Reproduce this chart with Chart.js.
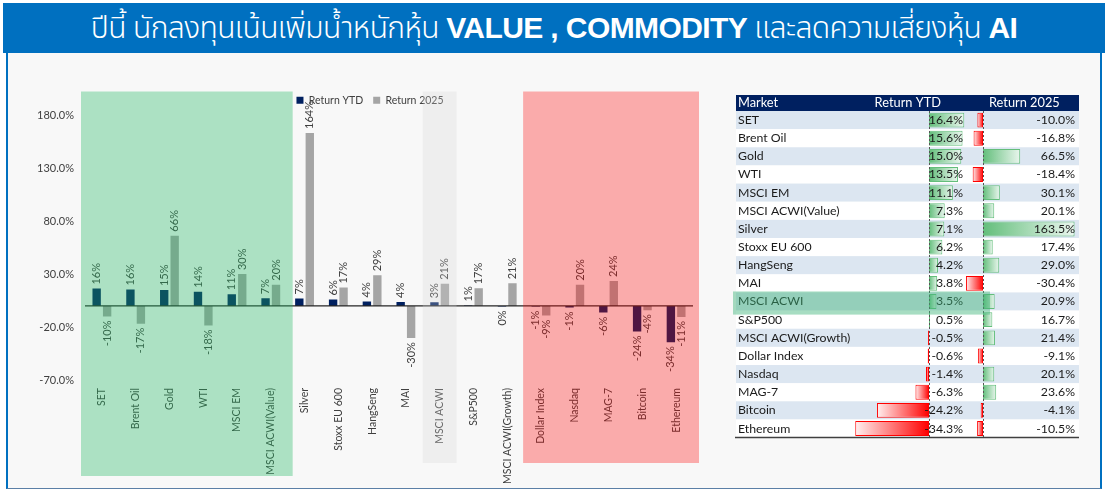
<!DOCTYPE html>
<html><head><meta charset="utf-8">
<script src="https://cdn.jsdelivr.net/npm/chart.js@4.4.1/dist/chart.umd.min.js"></script>
<style>
html,body{margin:0;padding:0;background:#fff;width:1105px;height:493px;overflow:hidden;position:relative;}
#title{position:absolute;left:3px;top:3px;width:1102px;height:50px;background:#0070C0;color:#fff;font-family:"Noto Sans Thai","Noto Sans Thai UI","Noto Sans","DejaVu Sans",sans-serif;font-size:30px;font-weight:300;line-height:50px;text-align:center;white-space:nowrap;letter-spacing:-0.6px;}
#title b{font-weight:700;font-family:"Liberation Sans","Noto Sans Thai",sans-serif;}
#panel{position:absolute;left:6px;top:53px;width:1092px;height:435px;background:#F8F8F8;border-left:2px solid #0070C0;border-right:2px solid #0070C0;border-bottom:1px solid #5b7fa6;}
#c1{position:absolute;left:0;top:60px;}
#c2{position:absolute;left:733px;top:93px;}
</style></head>
<body>
<div id="title">ปีนี้ นักลงทุนเน้นเพิ่มน้ำหนักหุ้น <b>VALUE , COMMODITY</b> และลดความเสี่ยงหุ้น <b>AI</b></div>
<div id="panel"></div>
<canvas id="c1" width="740" height="430"></canvas>
<canvas id="c2" width="350" height="352"></canvas>
<script>
// ---- data ----
const markets = ['SET','Brent Oil','Gold','WTI','MSCI EM','MSCI ACWI(Value)','Silver','Stoxx EU 600','HangSeng','MAI','MSCI ACWI','S&P500','MSCI ACWI(Growth)','Dollar Index','Nasdaq','MAG-7','Bitcoin','Ethereum'];
const returnYTD = [16.4,15.6,15.0,13.5,11.1,7.3,7.1,6.2,4.2,3.8,3.46,0.5,-0.45,-0.6,-1.4,-6.3,-24.2,-34.3];
const return2025 = [-10.0,-16.8,66.46,-18.4,30.1,20.1,163.5,17.4,29.0,-30.4,20.9,16.7,21.4,-9.1,20.1,23.6,-4.1,-10.5];
const seriesNames = ['Return YTD','Return 2025'];
const yTicks = [-70,-20,30,80,130,180];
const tableHeaders = ['Market','Return YTD','Return 2025'];
const highlightMarket = 'MSCI ACWI';

// ---- styles ----
Chart.defaults.font.family = 'Lato, "Liberation Sans", sans-serif';
const textColor = '#404040';
const zones = [
  {from:'SET', to:'MSCI ACWI(Value)', color:'rgba(31,183,97,0.35)', padL:4, padR:5, ext:96},
  {from:'MSCI ACWI', to:'MSCI ACWI', color:'rgba(212,212,212,0.28)', padL:0, padR:0, ext:83},
  {from:'Dollar Index', to:'Ethereum', color:'rgba(255,0,0,0.31)', padL:1, padR:6, ext:83}
];
const excelRound = v => Math.sign(v) * Math.round(Math.abs(v));

const barLabels = {
  id:'barLabels',
  afterDatasetsDraw(chart){
    const {ctx, chartArea:ca, scales:{y}} = chart;
    ctx.save();
    const y0 = y.getPixelForValue(0);
    ctx.strokeStyle = '#262626'; ctx.lineWidth = 1.3;
    ctx.beginPath(); ctx.moveTo(ca.left, y0); ctx.lineTo(ca.right, y0); ctx.stroke();
    ctx.font = '11px Lato, "Liberation Sans", sans-serif';
    ctx.fillStyle = textColor; ctx.textBaseline = 'middle';
    chart.data.datasets.forEach((ds, di) => {
      chart.getDatasetMeta(di).data.forEach((bar, i) => {
        const v = ds.data[i];
        const txt = `${excelRound(v)}%`;
        ctx.save();
        if (v >= 0) { ctx.translate(bar.x, bar.y - 4); ctx.textAlign = 'left'; }
        else { ctx.translate(bar.x, bar.y + 4); ctx.textAlign = 'right'; }
        ctx.rotate(-Math.PI/2);
        ctx.fillText(txt, 0, 0);
        ctx.restore();
      });
    });
    ctx.restore();
  },
  afterDraw(chart){
    const {ctx, chartArea:ca, scales:{x}} = chart;
    const half = (x.getPixelForValue(1) - x.getPixelForValue(0)) / 2;
    ctx.save();
    zones.forEach(z => {
      const a = markets.indexOf(z.from), b = markets.indexOf(z.to);
      const l = x.getPixelForValue(a) - half - z.padL;
      const r = x.getPixelForValue(b) + half + z.padR;
      const t = ca.top - 24, btm = ca.bottom + z.ext;
      ctx.fillStyle = z.color;
      ctx.fillRect(l, t, r - l, btm - t);
    });
    ctx.restore();
  }
};

new Chart(document.getElementById('c1'), {
  type:'bar',
  data:{labels:markets, datasets:[
    {label:seriesNames[0], data:returnYTD, backgroundColor:'#002060'},
    {label:seriesNames[1], data:return2025, backgroundColor:'#A5A5A5'}
  ]},
  options:{
    responsive:false, animation:false,
    categoryPercentage:0.62, barPercentage:0.8,
    layout:{padding:{left:47, right:47, top:25, bottom:0}},
    plugins:{
      legend:{position:'top', labels:{boxWidth:7, boxHeight:7, padding:10, color:textColor, font:{size:10.5}}},
      tooltip:{enabled:false}
    },
    scales:{
      x:{grid:{display:false, drawTicks:false}, border:{display:false},
         ticks:{minRotation:90, maxRotation:90, autoSkip:false, padding:8, color:textColor, font:{size:10.5}},
         afterFit(s){ s.height = 110; }},
      y:{min:-70, max:180, grid:{display:false, drawTicks:false}, border:{display:false},
         afterBuildTicks(s){ s.ticks = yTicks.map(v => ({value:v})); },
         ticks:{padding:11, color:textColor, font:{size:11}, callback:v => Number(v).toFixed(1) + '%'},
         afterFit(s){ s.width = 38; s._computeLabelArea = () => undefined; }}
    }
  },
  plugins:[barLabels]
});

// ---- table chart ----
function barFill(c, axisId){
  const chart = c.chart, v = c.raw, sc = chart.scales[axisId];
  if (c.type !== 'data' || !chart.chartArea || !sc) return v >= 0 ? '#63BE7B' : '#FF0000';
  const x0 = sc.getPixelForValue(0), x1 = sc.getPixelForValue(v);
  if (Math.abs(x1 - x0) < 0.5) return v >= 0 ? '#63BE7B' : '#FF0000';
  const g = chart.ctx.createLinearGradient(x0, 0, x1, 0);
  if (v >= 0) { g.addColorStop(0, '#63BE7B'); g.addColorStop(1, '#EAF6EE'); }
  else { g.addColorStop(0, '#FF0000'); g.addColorStop(1, '#FFF0F0'); }
  return g;
}
const tableFont = '12.3px Lato, "Liberation Sans", sans-serif';
const tableDeco = {
  id:'tableDeco',
  beforeDraw(chart){
    const {ctx, chartArea:ca, scales:{y, xa, xb}} = chart;
    const L = 3, R = ca.right, rowH = y.getPixelForValue(1) - y.getPixelForValue(0);
    ctx.save();
    ctx.fillStyle = '#002060';
    ctx.fillRect(L, ca.top - 16, R - L, 16);
    ctx.fillStyle = '#FFFFFF'; ctx.font = '12.8px Lato, "Liberation Sans", sans-serif'; ctx.textBaseline = 'middle';
    ctx.textAlign = 'left'; ctx.fillText(tableHeaders[0], 5, ca.top - 8);
    ctx.textAlign = 'right'; ctx.fillText(tableHeaders[1], xa.right - 24, ca.top - 8);
    ctx.textAlign = 'left'; ctx.fillText(tableHeaders[2], xb.getPixelForValue(0) + 6, ca.top - 8);
    markets.forEach((m, i) => {
      ctx.fillStyle = i % 2 === 0 ? '#DCE6F1' : '#FFFFFF';
      ctx.fillRect(L, y.getPixelForValue(i) - rowH/2, R - L, rowH);
    });
    ctx.restore();
  },
  afterDatasetsDraw(chart){
    const {ctx, chartArea:ca, scales:{y, xa, xb}} = chart;
    ctx.save();
    ctx.strokeStyle = '#555'; ctx.lineWidth = 1; ctx.setLineDash([2, 2]);
    [xa, xb].forEach(sc => {
      const px = Math.round(sc.getPixelForValue(0)) + 0.5;
      ctx.beginPath(); ctx.moveTo(px, ca.top); ctx.lineTo(px, ca.bottom); ctx.stroke();
    });
    ctx.setLineDash([]);
    ctx.font = tableFont; ctx.fillStyle = '#1A1A1A'; ctx.textBaseline = 'middle'; ctx.textAlign = 'right';
    markets.forEach((m, i) => {
      const yy = y.getPixelForValue(i);
      ctx.fillText(returnYTD[i].toFixed(1) + '%', xa.right - 2, yy);
      ctx.fillText(return2025[i].toFixed(1) + '%', ca.right - 4, yy);
    });
    ctx.restore();
  },
  afterDraw(chart){
    const {ctx, chartArea:ca, scales:{y, xb}} = chart;
    const rowH = y.getPixelForValue(1) - y.getPixelForValue(0);
    const hi = markets.indexOf(highlightMarket);
    ctx.save();
    ctx.strokeStyle = '#404040'; ctx.lineWidth = 1.5;
    ctx.beginPath(); ctx.moveTo(2, ca.bottom); ctx.lineTo(ca.right, ca.bottom); ctx.stroke();
    ctx.fillStyle = 'rgba(60,180,120,0.45)';
    const top = y.getPixelForValue(hi) - rowH/2 - 1;
    ctx.fillRect(0, top, xb.getPixelForValue(0) + 7, rowH + 5);
    ctx.restore();
  }
};

new Chart(document.getElementById('c2'), {
  type:'bar',
  data:{labels:markets, datasets:[
    {label:seriesNames[0], data:returnYTD, xAxisID:'xa',
     backgroundColor:c => barFill(c, 'xa'), borderColor:c => (c.raw >= 0 ? '#63BE7B' : '#FF0000')},
    {label:seriesNames[1], data:return2025, xAxisID:'xb',
     backgroundColor:c => barFill(c, 'xb'), borderColor:c => (c.raw >= 0 ? '#63BE7B' : '#FF0000')}
  ]},
  options:{
    indexAxis:'y', responsive:false, animation:false,
    grouped:false, categoryPercentage:1, barPercentage:0.82, borderWidth:1, borderSkipped:false,
    layout:{padding:{left:5, right:4, top:18, bottom:5}},
    plugins:{legend:{display:false}, tooltip:{enabled:false}},
    scales:{
      y:{type:'category', position:'left', grid:{display:false, drawTicks:false}, border:{display:false},
         ticks:{crossAlign:'far', padding:0, autoSkip:false, color:'#1A1A1A', font:{size:12.3}},
         afterFit(s){ s.width = 112; }},
      xa:{type:'linear', position:'bottom', stack:'tbl', stackWeight:115, min:-36.74, max:16.74, display:false},
      xb:{type:'linear', position:'bottom', stack:'tbl', stackWeight:114, min:-32.1, max:171.4, display:false}
    }
  },
  plugins:[tableDeco]
});
</script>
</body></html>
